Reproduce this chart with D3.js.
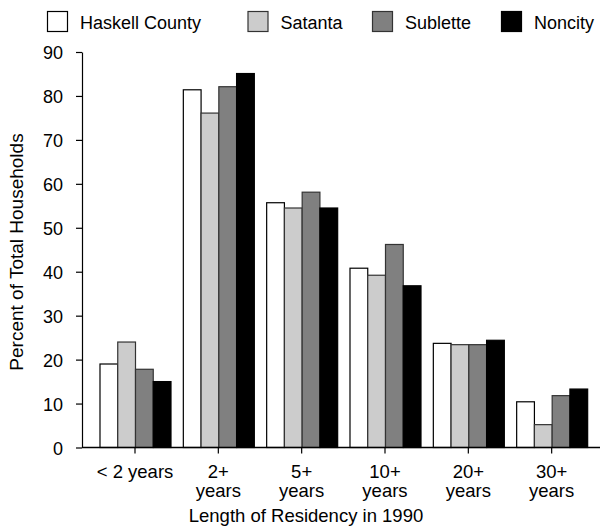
<!DOCTYPE html>
<html><head><meta charset="utf-8">
<script src="https://cdn.jsdelivr.net/npm/d3@7"></script>
<style>body{margin:0;background:#fff}svg{display:block}text{font-family:"Liberation Sans",Arial,sans-serif;fill:#000}</style>
</head><body>
<script>
const categories = ["< 2 years", "2+ years", "5+ years", "10+ years", "20+ years", "30+ years"];
const categoryLines = [["< 2 years"], ["2+", "years"], ["5+", "years"], ["10+", "years"], ["20+", "years"], ["30+", "years"]];
const seriesNames = ["Haskell County", "Satanta", "Sublette", "Noncity"];
const haskell = [19, 81.4, 55.7, 40.8, 23.7, 10.4];
const satanta = [24, 76.1, 54.5, 39.2, 23.4, 5.2];
const sublette = [17.8, 82.1, 58.1, 46.2, 23.4, 11.8];
const noncity = [15, 85.1, 54.5, 36.8, 24.4, 13.3];
const yTicks = [0, 10, 20, 30, 40, 50, 60, 70, 80, 90];
const colors = ["#ffffff", "#cccccc", "#808080", "#000000"];
const strokes = ["#000", "#333", "#333", "#000"];

const series = [haskell, satanta, sublette, noncity];
const W = 601, H = 527;
const svg = d3.select("body").append("svg").attr("width", W).attr("height", H);

const y = d3.scaleLinear().domain([0, 90]).range([447.5, 52]);
const x0 = d3.scaleBand().domain(categories).range([93.33, 593.33]).paddingInner(0.148).paddingOuter(0.074);
const x1 = d3.scaleBand().domain(seriesNames).range([0, x0.bandwidth()]);

// bars
const groups = svg.append("g").selectAll("g").data(categories).join("g")
  .attr("transform", d => `translate(${x0(d)},0)`);
groups.selectAll("rect").data((d, i) => seriesNames.map((s, j) => ({s, j, v: series[j][i]})))
  .join("rect")
  .attr("x", d => x1(d.s) + 0.5)
  .attr("y", d => y(d.v))
  .attr("width", x1.bandwidth())
  .attr("height", d => y(0) - y(d.v))
  .attr("fill", d => colors[d.j])
  .attr("stroke", d => strokes[d.j])
  .attr("stroke-width", 1.2);

// y axis
const yAxis = svg.append("g").attr("transform", "translate(82,0)")
  .call(d3.axisLeft(y).tickValues(yTicks).tickSize(6).tickSizeOuter(0).tickPadding(13));
yAxis.selectAll("text").style("font-size", "18px").attr("dy", "0.38em");
yAxis.selectAll("line,path").attr("stroke", "#000").attr("stroke-width", 1.2);

// x axis
svg.append("line").attr("x1", 82).attr("x2", 600).attr("y1", y(0)).attr("y2", y(0))
  .attr("stroke", "#000").attr("stroke-width", 1.5);
const xAxis = svg.append("g").attr("transform", `translate(0,${y(0)})`)
  .call(d3.axisBottom(x0).tickSize(6).tickSizeOuter(0));
xAxis.select(".domain").remove();
xAxis.selectAll("line").attr("stroke", "#000").attr("stroke-width", 1.2);
xAxis.selectAll("text").each(function(d, i) {
  const t = d3.select(this).text(null).style("font-size", "18.5px").attr("y", 0).attr("dy", null);
  categoryLines[i].forEach((ln, k) => {
    t.append("tspan").attr("x", 0).attr("y", 30 + k * 19).text(ln);
  });
});

// axis titles
svg.append("text").attr("x", 306).attr("y", 522).attr("text-anchor", "middle")
  .style("font-size", "18.5px").text("Length of Residency in 1990");
svg.append("text").attr("transform", "translate(23,252) rotate(-90)").attr("text-anchor", "middle")
  .style("font-size", "19px").text("Percent of Total Households");

// legend
const legX = [47, 247.5, 372, 501];
const leg = svg.append("g").selectAll("g").data(seriesNames).join("g")
  .attr("transform", (d, i) => `translate(${legX[i]},11)`);
leg.append("rect").attr("x", 0.5).attr("y", 0.5).attr("width", 20).attr("height", 20)
  .attr("fill", (d, i) => colors[i]).attr("stroke", (d, i) => strokes[i]).attr("stroke-width", 1.2);
leg.append("text").attr("x", 33).attr("y", 18).style("font-size", "18px").text(d => d);
</script>
</body></html>
